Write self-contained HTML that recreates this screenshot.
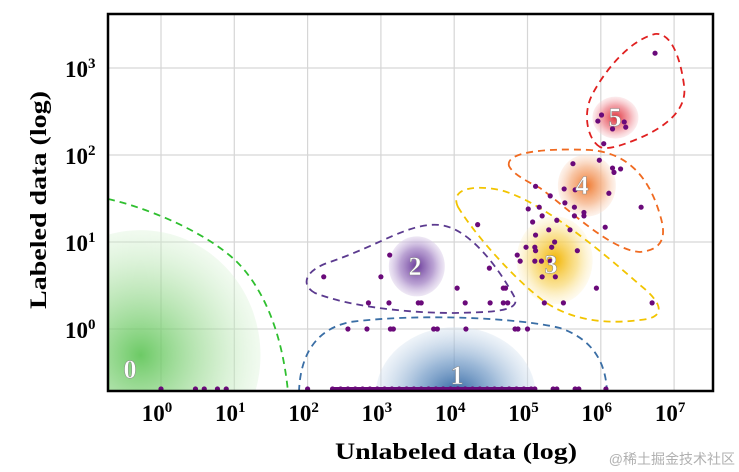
<!DOCTYPE html>
<html><head><meta charset="utf-8"><style>
html,body{margin:0;padding:0;background:#fff;width:739px;height:472px;overflow:hidden}
#wrap{position:fixed;left:0;top:0;width:739px;height:472px;overflow:hidden}
svg{display:block}
text{font-family:"Liberation Serif",serif;font-weight:bold}
</style></head><body>
<div id="wrap">
<svg id="chart" width="739" height="472" viewBox="0 0 739 472" xmlns="http://www.w3.org/2000/svg">
<defs>
<clipPath id="plotclip"><rect x="108" y="14" width="605" height="377"/></clipPath>
<radialGradient id="g0"><stop offset="0" stop-color="#5cc454" stop-opacity="0.9"/><stop offset="0.6" stop-color="#a0dc98" stop-opacity="0.55"/><stop offset="1" stop-color="#d8f2d4" stop-opacity="0.35"/></radialGradient>
<radialGradient id="g1"><stop offset="0" stop-color="#285f9e" stop-opacity="1"/><stop offset="0.5" stop-color="#7099c6" stop-opacity="0.7"/><stop offset="1" stop-color="#d6e3f0" stop-opacity="0.4"/></radialGradient>
<radialGradient id="g2"><stop offset="0" stop-color="#6a3a9a"/><stop offset="0.6" stop-color="#a98bc8" stop-opacity="0.8"/><stop offset="1" stop-color="#ddd0ea" stop-opacity="0.5"/></radialGradient>
<radialGradient id="g3"><stop offset="0" stop-color="#f2b400"/><stop offset="0.6" stop-color="#f8d870" stop-opacity="0.7"/><stop offset="1" stop-color="#fdf0c8" stop-opacity="0.3"/></radialGradient>
<radialGradient id="g4"><stop offset="0" stop-color="#f07a30"/><stop offset="0.6" stop-color="#f6b890" stop-opacity="0.8"/><stop offset="1" stop-color="#fbe0cf" stop-opacity="0.4"/></radialGradient>
<radialGradient id="g5"><stop offset="0" stop-color="#e0303a"/><stop offset="0.6" stop-color="#f09098" stop-opacity="0.8"/><stop offset="1" stop-color="#f8d0d4" stop-opacity="0.4"/></radialGradient>
</defs>
<g id="grid"></g>
<g clip-path="url(#plotclip)">
<g id="blobs"></g>
<g id="hulls" fill="none" stroke-width="1.8" stroke-dasharray="7,5"></g>
<g id="points"></g>
<g id="labels"></g>
</g>
<rect x="108" y="14" width="605" height="377" fill="none" stroke="#000" stroke-width="2.5"/>
<g id="xticks"></g>
<g id="yticks"></g>
<text x="456" y="459" text-anchor="middle" font-size="23" textLength="242" lengthAdjust="spacingAndGlyphs">Unlabeled data (log)</text>
<text transform="translate(46,200) rotate(-90)" text-anchor="middle" font-size="23" textLength="218" lengthAdjust="spacingAndGlyphs">Labeled data (log)</text>
<text x="735" y="464" text-anchor="end" font-size="14" fill="#b0b0b0" style="font-family:'Liberation Sans','Noto Sans CJK SC',sans-serif;font-weight:normal">@稀土掘金技术社区</text>
</svg>
</div>
<script>
// data (log10 units)
const xTickExps = [0,1,2,3,4,5,6,7];
const yTickExps = [0,1,2,3];
const ptLogX = [6.74,6.01,5.96,6.32,6.34,6.16,6.04,
 5.62,5.98,6.16,6.18,6.27,6.11,5.50,5.65,5.11,5.31,6.55,5.51,5.64,5.77,5.77,5.64,5.16,5.20,5.40,5.07,5.29,5.58,6.06,5.11,4.32,5.01,
 5.37,5.33,4.98,5.10,5.11,5.68,4.86,4.90,5.10,5.19,5.31,5.20,5.38,5.94,5.23,5.49,6.70,
 3.12,2.22,3.00,4.48,4.04,4.67,4.70,2.83,3.11,3.51,3.55,4.15,4.49,4.67,4.73,
 2.55,2.81,3.13,3.17,3.72,3.77,4.16,4.83,4.87,5.00];
const ptLogY = [3.17,2.46,2.39,2.38,2.32,2.30,2.13,
 1.90,1.94,1.85,1.80,1.84,1.56,1.61,1.60,1.64,1.53,1.40,1.45,1.40,1.34,1.30,1.30,1.40,1.30,1.25,1.23,1.14,1.14,1.17,1.08,1.20,1.38,
 1.00,0.94,0.94,0.94,0.90,0.90,0.85,0.78,0.78,0.78,0.78,0.60,0.60,0.47,0.30,0.30,0.30,
 0.85,0.60,0.60,0.70,0.47,0.47,0.47,0.30,0.30,0.30,0.30,0.30,0.30,0.30,0.30,
 0,0,0,0,0,0,0,0,0,0];
// zero-labeled samples (drawn on bottom axis)
const zeroLogX = [0.0,0.47,0.59,0.77,0.89,2.00,2.34,2.45,2.55,2.65,2.75,2.85,2.95,3.05,3.15,3.25,3.35,3.45,3.55,3.65,3.75,3.85,3.95,4.05,4.15,4.25,4.35,4.45,4.55,4.65,4.75,4.85,4.95,5.05,5.10,5.35,5.40,5.65,5.70,6.07];
const clusterNames = ["0","1","2","3","4","5"];
const clusterCx = [-0.28,4.02,3.49,5.37,5.81,6.20];
const clusterCy = [-0.30,-0.76,0.72,0.79,1.65,2.43];

const svgNS="http://www.w3.org/2000/svg";
const X0=161, DX=73.3, Y0=329, DY=87;
const xs=l=>X0+DX*l, ys=l=>Y0-DY*l;
function mk(tag,attrs,parent){const e=document.createElementNS(svgNS,tag);for(const k in attrs)e.setAttribute(k,attrs[k]);parent.appendChild(e);return e;}

const grid=document.getElementById('grid');
xTickExps.forEach(e=>{const l=mk('line',{x1:xs(e),x2:xs(e),y1:14,y2:391,stroke:'#d6d6d6','stroke-width':1.2},grid);

});
yTickExps.forEach(e=>{const l=mk('line',{x1:108,x2:713,y1:ys(e),y2:ys(e),stroke:'#d6d6d6','stroke-width':1.2},grid);

});

const xt=document.getElementById('xticks');
xTickExps.forEach(e=>{const t=mk('text',{x:xs(e)-4,y:421,'text-anchor':'middle','font-size':23},xt);


t.textContent='10';const s=mk('tspan',{dy:-9,'font-size':15},t);s.textContent=String(e);});
const yt=document.getElementById('yticks');
yTickExps.forEach(e=>{const t=mk('text',{x:65,y:ys(e)+9,'font-size':23},yt);


t.textContent='10';const s=mk('tspan',{dy:-9,'font-size':15},t);s.textContent=String(e);});

// blobs
const blobs=document.getElementById('blobs');
const blobR=[[120,125],[80,68],[28,30],[38,44],[29,31],[23,21]];
clusterNames.forEach((n,i)=>{const b=mk('ellipse',{cx:xs(clusterCx[i]),cy:ys(clusterCy[i]),rx:blobR[i][0],ry:blobR[i][1],fill:'url(#g'+i+')'},blobs);

});

// hull outlines (pixel paths)
const hulls=document.getElementById('hulls');
const hullDefs=[
 ['#2fbf2f','M108,199 C140,206 200,228 235,260 C262,286 282,330 288,392'],
 ['#3a6ea5','M299,392 C300,360 312,330 350,322 C420,313 520,318 560,328 C595,340 606,365 607,392'],
 ['#5b3a8f','M315,293 C300,285 305,270 330,262 C380,245 410,222 440,225 C470,228 500,270 515,298 C520,312 490,312 455,313 C400,313 345,305 315,293 Z'],
 ['#f2c400','M458,207 C450,190 470,184 500,190 C540,200 600,250 640,285 C665,305 665,318 640,320 C610,324 575,322 545,302 C515,280 475,235 458,207 Z'],
 ['#f06a20','M509,166 C505,152 545,148 590,150 C630,153 650,180 660,215 C668,240 660,250 640,252 C610,250 570,210 540,188 C520,178 512,172 509,166 Z'],
 ['#e02020','M600,147 C588,140 582,115 592,95 C605,70 630,40 655,34 C670,32 680,55 684,85 C688,110 665,128 635,140 C620,146 607,150 600,147 Z']];
hullDefs.forEach((h,i)=>{const p=mk('path',{d:h[1],stroke:h[0]},hulls);

});

// points
const pts=document.getElementById('points');
ptLogX.forEach((lx,i)=>{const c=mk('circle',{cx:xs(lx),cy:ys(ptLogY[i]),r:2.6,fill:'#6a0a7a'},pts);

});
zeroLogX.forEach(lx=>{const c=mk('circle',{cx:xs(lx),cy:389,r:2.6,fill:'#6a0a7a'},pts);

});
const bar=mk('line',{x1:xs(2.34),x2:xs(5.1),y1:389,y2:389,stroke:'#6a0a7a','stroke-width':4},pts);



// labels
const lab=document.getElementById('labels');
const labPos=[[130,378],[457,384],[415,275],[551,273],[582,194],[615,126]];
clusterNames.forEach((n,i)=>{const t=mk('text',{x:labPos[i][0],y:labPos[i][1],'text-anchor':'middle','font-size':26,fill:'#fff',stroke:'#888','stroke-width':0.5},lab);


t.textContent=n;});
</script>
</body></html>
